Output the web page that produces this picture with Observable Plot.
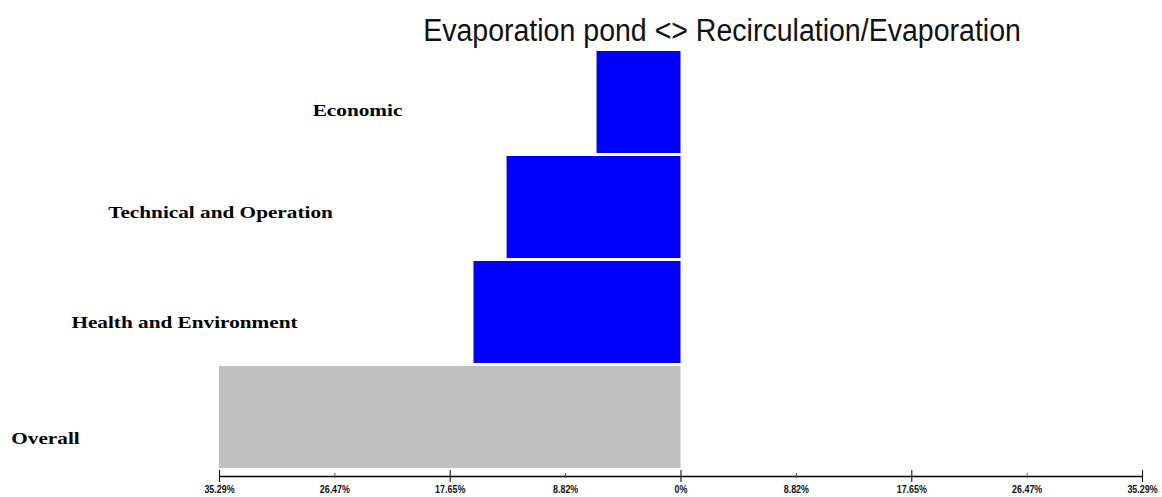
<!DOCTYPE html>
<html>
<head>
<meta charset="utf-8">
<script src="https://cdn.jsdelivr.net/npm/d3@7"></script>
<script src="https://cdn.jsdelivr.net/npm/@observablehq/plot@0.6"></script>
<style>
  html, body { margin: 0; padding: 0; background: #fff; }
  #wrap { position: relative; width: 1162px; height: 497px; }
  #title {
    position: absolute; left: 722px; top: 15px; white-space: nowrap;
    transform: translateX(-50%) scaleX(0.92); transform-origin: center;
    font-family: "Liberation Sans", Arial, sans-serif;
    font-size: 31px; color: #111; line-height: 1;
  }
</style>
</head>
<body>
<div id="wrap"><div id="title">Evaporation pond &lt;&gt; Recirculation/Evaporation</div></div>
<script>
const categories = ["Economic", "Technical and Operation", "Health and Environment", "Overall"];
const values = [6.42, 13.30, 15.83, 35.29];   // percent, bars extend to the left
const barColors = ["#0000ff", "#0000ff", "#0000ff", "#c0c0c0"];
const majorTicks = [-35.29, -17.65, 0, 17.65, 35.29];
const minorTicks = [-26.47, -8.82, 8.82, 26.47];
const tickValues = [-35.29, -26.47, -17.65, -8.82, 0, 8.82, 17.65, 26.47, 35.29];
const tickLabels = ["35.29%", "26.47%", "17.65%", "8.82%", "0%", "8.82%", "17.65%", "26.47%", "35.29%"];

const data = categories.map((c, i) => ({category: c, value: values[i], color: barColors[i]}));
const labelFmt = d => tickLabels[tickValues.indexOf(d)];

// label placement: offsets relative to left frame edge / band centre
const labelStyle = [
  {dx: 138, dy: 8},
  {dx: 1, dy: 5},
  {dx: -35, dy: 10},
  {dx: -174, dy: 21}
];

const tickFont = "'Liberation Sans', Arial, sans-serif";

const chart = Plot.plot({
  width: 1162,
  height: 497,
  marginTop: 50,
  marginBottom: 21,
  marginLeft: 219,
  marginRight: 20,
  x: {domain: [-35.29, 35.29]},
  y: {domain: categories, range: [50, 468], paddingInner: 0.03, paddingOuter: 0, axis: null},
  style: {background: "#fff"},
  marks: [
    Plot.barX(data, {y: "category", x1: 0, x2: d => -d.value, fill: "color"}),
    Plot.frame({anchor: "bottom", stroke: "#000", strokeWidth: 1.3}),
    Plot.axisX(majorTicks, {anchor: "bottom", tickSize: 6, tickPadding: 3, tickFormat: labelFmt, tickWidth: 1.5,
      fontSize: 10.5, fontWeight: "bold", fontFamily: tickFont, fill: "#111", stroke: "#000"}),
    Plot.axisX(majorTicks, {anchor: "bottom", tickSize: -6, tickFormat: () => "", stroke: "#000", tickWidth: 1.5}),
    Plot.axisX(minorTicks, {anchor: "bottom", tickSize: 2, tickPadding: 7, tickFormat: labelFmt,
      fontSize: 10.5, fontWeight: "bold", fontFamily: tickFont, fill: "#111", stroke: "#555"}),
    Plot.axisX(minorTicks, {anchor: "bottom", tickSize: -3, tickFormat: () => "", stroke: "#555"}),
    ...categories.map((c, i) => Plot.text([c], {
      y: d => d, text: d => d, frameAnchor: "left",
      dx: labelStyle[i].dx, dy: labelStyle[i].dy, textAnchor: "middle",
      fontFamily: "'Liberation Serif', 'Times New Roman', serif", fontWeight: "bold", fontSize: 17, fill: "#000"
    }))
  ]
});
// widen the serif category labels horizontally (as in the reference)
chart.querySelectorAll('g[font-size="17"] text').forEach(t => {
  const tr = t.getAttribute("transform") || "";
  const x = +t.getAttribute("x") || 0;
  t.setAttribute("transform", `${tr} translate(${x},0) scale(1.25,1) translate(${-x},0)`);
});
// slightly condense tick labels
chart.querySelectorAll('g[font-size="10.5"] text').forEach(t => {
  const tr = t.getAttribute("transform") || "";
  const x = +t.getAttribute("x") || 0;
  t.setAttribute("transform", `${tr} translate(${x},0) scale(0.85,1) translate(${-x},0)`);
});
document.getElementById("wrap").appendChild(chart);
</script>
</body>
</html>
